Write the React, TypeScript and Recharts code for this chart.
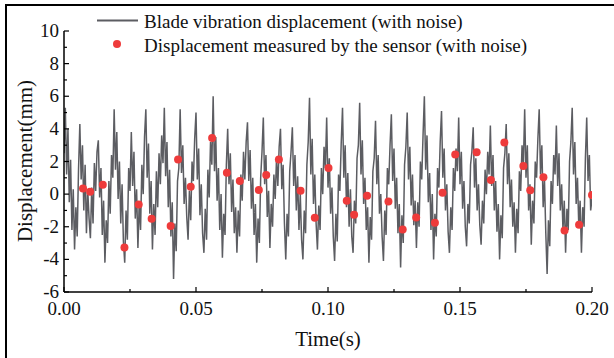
import React from 'react';
import { ComposedChart, Line, Scatter, XAxis, YAxis } from 'recharts';

// Blade vibration displacement (with noise), sampled every 0.0005 s from 0 to 0.2 s
const SAMPLE_STEP = 0.0005;
const SIGNAL = [
  2.5, 5.3, 1.2, 4.0, -0.5, 2.1, -2.2, 0.3, -3.4, -0.8, -2.6, 1.5, 4.3, 0.9, 3.0, -1.0, 1.8, -2.4, 0.2, -1.5,
  -2.7, 0.4, -1.8, 1.9, 0.2, 2.6, 3.3, -0.2, 1.6, -2.5, -0.4, -4.2, -1.6, -3.0, 0.8, -1.2, 2.4, 1.0, 5.2, 1.5,
  3.8, -0.3, 2.0, -1.8, 0.6, -2.9, -4.2, -1.0, -2.8, 1.6, 0.2, 3.8, 0.5, 2.6, -1.5, 0.3, -3.3, -0.5, -2.2, 1.8,
  0.0, 3.5, 5.2, 1.0, 3.1, -1.2, 0.8, -3.4, -0.6, -2.5, 1.4, -0.8, 2.5, 0.6, 3.6, 1.9, 5.3, 1.1, 3.2, -0.8,
  1.5, -2.6, -0.5, -5.2, -1.8, -3.5, 0.8, 1.6, 5.2, 1.3, 3.0, -0.6, 1.0, -1.4, -2.8, 0.2, -1.6, 2.0, 0.8, 3.4,
  5.0, 0.9, 2.8, -1.3, 0.6, -2.4, -3.6, -0.9, -2.8, 1.5, -0.2, 3.2, 1.8, 6.0, 1.4, 3.5, -0.4, 1.6, -2.2, 0.0,
  -3.9, -1.2, -2.5, 1.8, 4.0, 0.6, 2.5, -1.1, 0.9, -2.4, -0.8, -3.6, -1.0, -2.6, 1.2, -0.4, 2.6, 0.9, 3.2, 4.4,
  0.8, 2.7, -0.9, 1.0, -2.5, -0.6, -4.2, -1.5, -3.0, 1.0, 2.6, 4.7, 0.6, 2.4, -1.4, 0.2, -3.3, -0.6, -2.0, 1.2,
  -0.3, 2.2, 0.5, 2.9, 4.0, 0.3, 1.8, -1.8, -4.0, -1.2, -2.6, 1.4, 2.6, 4.1, 0.5, 2.4, -1.0, 1.1, -2.2, 0.0,
  -2.8, -4.0, -1.0, -2.4, 1.8, 3.2, 5.9, 1.2, 3.4, -0.6, 1.2, -1.8, -3.4, -0.7, -2.2, 1.6, 0.0, 2.9, 1.6, 4.7,
  0.4, 2.2, -1.2, 0.4, -2.6, -4.1, -1.2, -2.9, 1.2, 0.2, 3.1, 5.3, 1.0, 3.0, -0.8, 1.3, -2.0, 0.3, -2.6, -3.6,
  -0.4, -1.8, 2.2, 3.0, 5.6, 1.2, 3.3, -0.6, 1.0, -2.2, -0.8, -4.2, -1.4, -2.8, 1.4, 2.2, 4.5, 0.6, 2.4, -1.2,
  0.0, -2.6, -4.1, -1.0, -2.5, 1.6, 0.6, 3.0, 4.9, 0.8, 2.8, -0.9, 1.0, -2.4, -0.6, -4.5, -1.3, -3.0, 1.8, 2.9,
  5.0, 0.9, 2.9, -0.7, 1.2, -1.9, -0.4, -3.3, -0.5, -2.0, 2.0, 0.9, 3.6, 6.0, 1.5, 3.6, -0.5, 1.3, -2.2, 0.0,
  -4.0, -1.2, -2.6, 1.6, 0.4, 3.2, 5.1, 1.0, 2.8, -1.0, 0.6, -2.3, -3.6, -0.8, -2.2, 1.6, 0.2, 2.8, 1.4, 4.7,
  0.6, 2.6, -0.9, 0.8, -2.0, -3.2, -0.6, -1.8, 1.8, 2.6, 4.1, 0.4, 2.2, -1.0, 0.6, -1.9, -3.1, -0.4, -1.8, 1.5,
  0.0, 2.6, 1.2, 4.2, 0.5, 2.4, -1.0, 0.8, -2.3, -0.6, -4.0, -1.3, -2.7, 1.6, 2.5, 4.3, 0.6, 2.5, -0.8, 0.9,
  -2.0, -0.5, -3.6, -0.9, -2.4, 1.4, 0.2, 3.0, 1.8, 5.2, 1.0, 3.0, -1.0, 0.6, -3.1, -0.4, -1.8, 2.0, 1.0, 3.4,
  5.2, 1.2, 3.0, -0.8, 0.9, -2.4, -4.9, -1.6, -3.2, 0.8, -0.6, 2.4, 1.2, 4.2, 0.5, 2.5, -1.0, 0.6, -2.2, -0.4,
  -3.6, -0.9, -2.2, 2.0, 3.2, 5.3, 1.2, 3.2, -0.6, 1.0, -2.0, -0.4, -3.6, -0.8, -2.0, 2.2, 4.7, 0.8, 2.4, -1.0,
  -0.3,
];

// Displacement measured by the sensor (with noise)
const SENSOR_T = [
  0.0072, 0.0099, 0.0147, 0.0229, 0.0283, 0.0332, 0.0404, 0.0432, 0.048, 0.0561, 0.0617, 0.0666,
  0.0738, 0.0766, 0.0814, 0.0896, 0.095, 0.1002, 0.1071, 0.1099, 0.1148, 0.1229, 0.1283, 0.1334,
  0.1405, 0.1434, 0.1482, 0.1563, 0.1617, 0.1668, 0.174, 0.1766, 0.1816, 0.1896, 0.1951, 0.2,
];
const SENSOR_V = [
  0.35, 0.14, 0.57, -3.27, -0.63, -1.51, -1.96, 2.13, 0.45, 3.44, 1.31, 0.8,
  0.25, 1.18, 2.13, 0.2, -1.45, 1.6, -0.41, -1.27, -0.1, -0.45, -2.17, -1.43,
  -1.76, 0.08, 2.43, 2.56, 0.86, 3.17, 1.72, 0.23, 1.04, -2.23, -1.88, -0.06,
];

const X_TICKS = [0, 0.025, 0.05, 0.075, 0.1, 0.125, 0.15, 0.175, 0.2];
const Y_TICKS = [-6, -5, -4, -3, -2, -1, 0, 1, 2, 3, 4, 5, 6, 7, 8, 9, 10];

const LINE_LABEL = 'Blade vibration displacement (with noise)';
const DOT_LABEL = 'Displacement measured by the sensor (with noise)';
const X_TITLE = 'Time(s)';
const Y_TITLE = 'Displacement(mm)';

const signalData = SIGNAL.map((v, i) => ({ t: i * SAMPLE_STEP, v }));
const sensorData = SENSOR_T.map((t, i) => ({ t, v: SENSOR_V[i] }));

const FONT = '"Liberation Serif", "Times New Roman", serif';
const LINE_COLOR = '#5c5d62';
const DOT_COLOR = '#ee3b3b';

const XTick = (props: any) => {
  const { x, y, index, payload } = props;
  const major = index % 2 === 0;
  return (
    <g>
      <line x1={x} x2={x} y1={y} y2={y - (major ? 5 : 3)} stroke="#000" strokeWidth={1.2} />
      {major && (
        <text x={x} y={y + 23} textAnchor="middle" fontSize={19} fontFamily={FONT} fill="#111">
          {Number(payload.value).toFixed(2)}
        </text>
      )}
    </g>
  );
};

const YTick = (props: any) => {
  const { x, y, payload } = props;
  const major = Math.abs(payload.value) % 2 === 0;
  return (
    <g>
      <line x1={x} x2={x + (major ? 5 : 3)} y1={y} y2={y} stroke="#000" strokeWidth={1.2} />
      {major && (
        <text x={x - 5} y={y + 6} textAnchor="end" fontSize={19} fontFamily={FONT} fill="#111">
          {payload.value}
        </text>
      )}
    </g>
  );
};

export default function App() {
  return (
    <div style={{ position: 'fixed', left: 0, top: 0, width: 614, height: 358, background: '#fff', overflow: 'hidden' }}>
      <ComposedChart width={614} height={358} margin={{ top: 31, right: 22, bottom: 36, left: 0 }}>
        <XAxis
          type="number"
          dataKey="t"
          domain={[0, 0.2]}
          ticks={X_TICKS}
          interval={0}
          tickSize={0}
          tickMargin={0}
          tickLine={false}
          tick={(p: any) => <XTick {...p} />}
          axisLine={{ stroke: '#000', strokeWidth: 1.5 }}
          height={30}
          allowDataOverflow
        />
        <YAxis
          type="number"
          dataKey="v"
          domain={[-6, 10]}
          ticks={Y_TICKS}
          interval={0}
          tickSize={0}
          tickMargin={0}
          tickLine={false}
          tick={(p: any) => <YTick {...p} />}
          axisLine={{ stroke: '#000', strokeWidth: 1.5 }}
          width={64}
          allowDataOverflow
        />
        <Line
          data={signalData}
          dataKey="v"
          type="linear"
          stroke={LINE_COLOR}
          strokeWidth={1.5}
          strokeLinejoin="miter"
          dot={false}
          activeDot={false}
          isAnimationActive={false}
        />
        <Scatter
          data={sensorData}
          dataKey="v"
          fill={DOT_COLOR}
          isAnimationActive={false}
          shape={(p: any) => <circle cx={p.cx} cy={p.cy} r={4} fill={DOT_COLOR} />}
        />
      </ComposedChart>
      <svg width={614} height={358} style={{ position: 'absolute', left: 0, top: 0, pointerEvents: 'none' }}>
        <line x1={5} y1={5} x2={614} y2={5} stroke="#000" strokeWidth={2} />
        <line x1={6} y1={4} x2={6} y2={358} stroke="#000" strokeWidth={2} />
        <line x1={97} y1={20.5} x2={138} y2={20.5} stroke={LINE_COLOR} strokeWidth={2} />
        <text x={144} y={28} fontSize={19} fontFamily={FONT} fill="#111">{LINE_LABEL}</text>
        <circle cx={117} cy={44} r={4} fill={DOT_COLOR} />
        <text x={144} y={51.5} fontSize={19} fontFamily={FONT} fill="#111">{DOT_LABEL}</text>
        <text x={328} y={346} fontSize={21} fontFamily={FONT} textAnchor="middle" fill="#111">{X_TITLE}</text>
        <text x={32} y={161} fontSize={21} fontFamily={FONT} textAnchor="middle" fill="#111" transform="rotate(-90, 32, 161)">
          {Y_TITLE}
        </text>
      </svg>
    </div>
  );
}
